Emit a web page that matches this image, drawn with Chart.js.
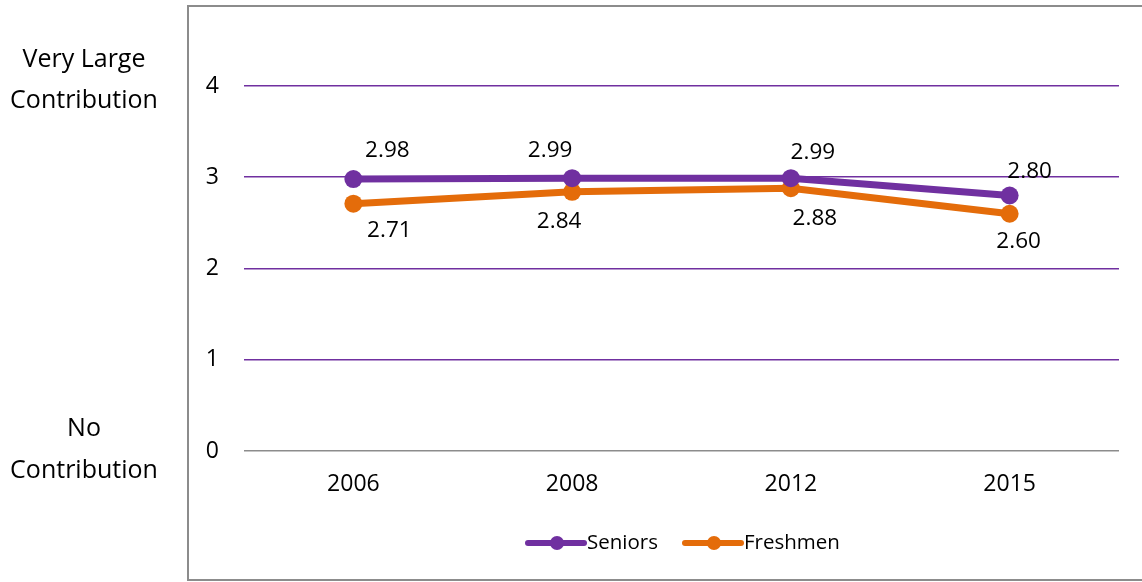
<!DOCTYPE html>
<html>
<head>
<meta charset="utf-8">
<script src="https://cdn.jsdelivr.net/npm/chart.js@4/dist/chart.umd.min.js"></script>
<style>
  html, body { margin: 0; padding: 0; background: #ffffff; }
  #wrap { width: 1142px; height: 582px; position: relative; }
</style>
</head>
<body>
<div id="wrap"><canvas id="c" width="1142" height="582"></canvas></div>
<script>
// Survey years and mean ratings (0 = no contribution, 4 = very large contribution)
const years = ['2006', '2008', '2012', '2015'];
const seniors = [2.98, 2.99, 2.99, 2.80];
const freshmen = [2.71, 2.84, 2.88, 2.60];
const yTicks = [0, 1, 2, 3, 4];
const topLabel = ['Very Large', 'Contribution'];
const bottomLabel = ['No', 'Contribution'];

const PURPLE = '#7030A0';
const ORANGE = '#E46C0A';
const GRAY = '#8C8C8C';
const FONT = '"Open Sans", "DejaVu Sans", sans-serif';

// Per-point nudges for the value labels, [dx, dy] from each marker centre
const labelNudge = [
  [[34, -28.5], [-22, -28], [22, -25.5], [20, -23.5]],
  [[36, 27], [-13, 30], [24, 30], [9, 28]]
];

// Frame, side captions, value labels and legend
const decorations = {
  id: 'decorations',
  beforeDraw(chart) {
    const ctx = chart.ctx;
    ctx.save();
    ctx.fillStyle = '#ffffff';
    ctx.fillRect(0, 0, chart.width, chart.height);
    ctx.strokeStyle = GRAY;
    ctx.lineWidth = 2;
    ctx.strokeRect(188, 6, 1000, 574);
    ctx.restore();
  },
  afterDatasetsDraw(chart) {
    const ctx = chart.ctx;
    const y = chart.scales.y;
    ctx.save();
    ctx.fillStyle = '#000000';
    ctx.textAlign = 'center';
    ctx.textBaseline = 'middle';
    ctx.font = '25px ' + FONT;
    // captions beside the top and bottom of the scale
    const topY = y.getPixelForValue(4);
    const botY = y.getPixelForValue(0);
    ctx.fillText(topLabel[0], 84, topY - 26);
    ctx.fillText(topLabel[1], 84, topY + 15);
    ctx.fillText(bottomLabel[0], 84, botY - 22);
    ctx.fillText(bottomLabel[1], 84, botY + 20);

    // value labels: seniors above, freshmen below
    ctx.font = '22.5px ' + FONT;
    chart.data.datasets.forEach((ds, di) => {
      const meta = chart.getDatasetMeta(di);
      meta.data.forEach((pt, i) => {
        const [dx, dy] = labelNudge[di][i];
        ctx.fillText(ds.data[i].toFixed(2), pt.x + dx, pt.y + dy);
      });
    });

    // legend
    ctx.font = '20.5px ' + FONT;
    ctx.textAlign = 'left';
    const ly = 543;
    const items = [
      { label: chart.data.datasets[0].label, color: PURPLE, x: 528 },
      { label: chart.data.datasets[1].label, color: ORANGE, x: 685 }
    ];
    items.forEach(it => {
      ctx.strokeStyle = it.color;
      ctx.lineWidth = 6;
      ctx.lineCap = 'round';
      ctx.beginPath();
      ctx.moveTo(it.x, ly);
      ctx.lineTo(it.x + 56, ly);
      ctx.stroke();
      ctx.fillStyle = it.color;
      ctx.beginPath();
      ctx.arc(it.x + 29, ly, 7, 0, Math.PI * 2);
      ctx.fill();
      ctx.fillStyle = '#000000';
      ctx.fillText(it.label, it.x + 59, ly);
    });
    ctx.restore();
  }
};

new Chart(document.getElementById('c'), {
  type: 'line',
  data: {
    labels: years,
    datasets: [
      {
        label: 'Seniors',
        data: seniors,
        borderColor: PURPLE,
        backgroundColor: PURPLE,
        borderWidth: 7,
        pointRadius: 9,
        pointHoverRadius: 9,
        pointBorderWidth: 0,
        tension: 0
      },
      {
        label: 'Freshmen',
        data: freshmen,
        borderColor: ORANGE,
        backgroundColor: ORANGE,
        borderWidth: 7,
        pointRadius: 9,
        pointHoverRadius: 9,
        pointBorderWidth: 0,
        tension: 0
      }
    ]
  },
  options: {
    responsive: false,
    animation: false,
    devicePixelRatio: 1,
    layout: { padding: { left: 0, right: 23, top: 86, bottom: 71 } },
    plugins: {
      legend: { display: false },
      tooltip: { enabled: false }
    },
    scales: {
      x: {
        offset: true,
        grid: { display: false, drawTicks: false },
        border: { display: false },
        ticks: { color: '#000', font: { family: FONT, size: 23 }, padding: 20 },
        afterFit(s) { s.height = 60; }
      },
      y: {
        min: 0,
        max: 4,
        afterBuildTicks(s) { s.ticks = yTicks.map(v => ({ value: v })); },
        grid: {
          color: ctx => (ctx.tick && ctx.tick.value === 0 ? GRAY : PURPLE),
          lineWidth: 1.6,
          drawTicks: false
        },
        border: { display: false },
        ticks: { color: '#000', font: { family: FONT, size: 23 }, padding: 25 },
        afterFit(s) { s.width = 244; }
      }
    }
  },
  plugins: [decorations]
});
</script>
</body>
</html>
